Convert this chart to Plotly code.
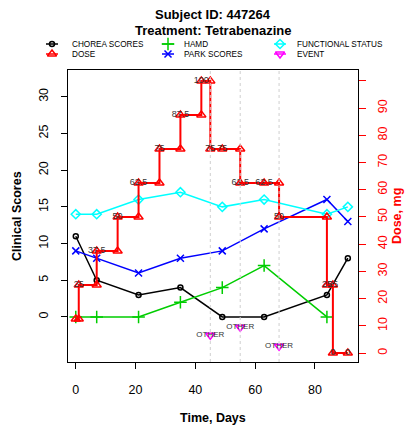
import plotly.graph_objects as go

W, H = 406, 430

# ---------------- data ----------------
days = [0, 7, 21, 35, 49, 63, 84, 91]
chorea = [11, 5, 3, 4, 0, 0, 3, 8]
hamd_days = [0, 7, 21, 35, 49, 63, 84]
hamd = [0, 0, 0, 2, 4, 7, 0]
park = [9, 8, 6, 8, 9, 12, 16, 13]
functional = [14, 14, 16, 17, 15, 16, 14, 15]

dose_days = [0, 1, 1, 7, 7, 14, 14, 21, 21, 28, 28, 35, 35, 42, 42, 45, 45, 49,
             55, 55, 63, 68, 68, 84, 84, 86, 86, 91]
dose_mg = [12.5, 12.5, 25, 25, 37.5, 37.5, 50, 50, 62.5, 62.5, 75, 75, 87.5, 87.5,
           100, 100, 75, 75, 75, 62.5, 62.5, 62.5, 50, 50, 25, 25, 0, 0]
dose_labels = ["", "", "25", "", "37.5", "", "50", "", "62.5", "", "75", "", "87.5", "",
               "100", "", "75", "75", "", "62.5", "62.5", "", "50", "", "25", "25", "0", "0"]

event_days = [45, 55, 68]
event_y = [-2.5, -1.4, -4.0]
event_labels = ["OTHER", "OTHER", "OTHER"]

x_ticks = [0, 20, 40, 60, 80]
y_ticks = [0, 5, 10, 15, 20, 25, 30]
dose_ticks = [0, 10, 20, 30, 40, 50, 60, 70, 80, 90, 100]
dose_ticktext = ["0", "10", "20", "30", "40", "50", "60", "70", "80", "90", ""]

legend_names = ["CHOREA SCORES", "DOSE", "HAMD", "PARK SCORES", "FUNCTIONAL STATUS", "EVENT"]

# ---------------- styles ----------------
FONT = "Liberation Sans, Arial, sans-serif"
STY = {
    "CHOREA SCORES": dict(color="#000000", symbol="circle-open", size=5),
    "DOSE": dict(color="#FF0000", symbol="triangle-up-open", size=8),
    "HAMD": dict(color="#00CD00", symbol="cross-thin-open", size=9),
    "PARK SCORES": dict(color="#0000FF", symbol="x-thin-open", size=7),
    "FUNCTIONAL STATUS": dict(color="#00FFFF", symbol="diamond-open", size=7),
    "EVENT": dict(color="#FF00FF", symbol="triangle-down-open", size=8),
}

def mk(name):
    s = STY[name]
    return dict(color=s["color"], symbol=s["symbol"], size=s["size"],
                line=dict(color=s["color"], width=1.5))

fig = go.Figure()

fig.add_trace(go.Scatter(x=days, y=chorea, mode="lines+markers",
                         line=dict(color=STY["CHOREA SCORES"]["color"], width=1.5),
                         marker=mk("CHOREA SCORES"), xaxis="x", yaxis="y"))
fig.add_trace(go.Scatter(x=hamd_days, y=hamd, mode="lines+markers",
                         line=dict(color=STY["HAMD"]["color"], width=1.5),
                         marker=mk("HAMD"), xaxis="x", yaxis="y"))
fig.add_trace(go.Scatter(x=days, y=park, mode="lines+markers",
                         line=dict(color=STY["PARK SCORES"]["color"], width=1.5),
                         marker=mk("PARK SCORES"), xaxis="x", yaxis="y"))
fig.add_trace(go.Scatter(x=days, y=functional, mode="lines+markers",
                         line=dict(color=STY["FUNCTIONAL STATUS"]["color"], width=1.5),
                         marker=mk("FUNCTIONAL STATUS"), xaxis="x", yaxis="y"))
fig.add_trace(go.Scatter(x=event_days, y=event_y, mode="markers+text",
                         marker=mk("EVENT"), text=event_labels,
                         textposition="middle center",
                         textfont=dict(size=8, color="#333333", family=FONT),
                         xaxis="x", yaxis="y"))
fig.add_trace(go.Scatter(x=dose_days, y=dose_mg, mode="lines+markers+text",
                         line=dict(color=STY["DOSE"]["color"], width=2),
                         marker=mk("DOSE"), text=dose_labels,
                         textposition="middle center",
                         textfont=dict(size=9, color="#333333", family=FONT),
                         xaxis="x", yaxis="y2"))

# ---------------- legend (drawn on an auxiliary pixel axis) ----------------
LEG_SYM_X = [52, 52, 168, 168, 280, 280]
LEG_TXT_X = [70, 70, 182, 182, 295, 295]
LEG_ROW_Y = [44, 54, 44, 54, 44, 54]
HALF = 6
for i, name in enumerate(legend_names):
    s = STY[name]
    fig.add_trace(go.Scatter(
        x=[LEG_SYM_X[i] - HALF, LEG_SYM_X[i], LEG_SYM_X[i] + HALF],
        y=[LEG_ROW_Y[i]] * 3, mode="lines+markers",
        line=dict(color=s["color"], width=1.5),
        marker=dict(color=s["color"], symbol=s["symbol"], size=s["size"],
                    opacity=[0, 1, 0], line=dict(color=s["color"], width=1.5)),
        xaxis="x3", yaxis="y3", hoverinfo="skip"))
    fig.add_annotation(x=LEG_TXT_X[i], y=LEG_ROW_Y[i], xref="x3", yref="y3",
                       text=name, showarrow=False, xanchor="left", yanchor="middle",
                       font=dict(size=8.2, color="#000000", family=FONT))

# ---------------- event reference lines ----------------
for d in event_days:
    fig.add_shape(type="line", xref="x", yref="y domain", x0=d, x1=d, y0=0, y1=1,
                  line=dict(color="#CFCFCF", width=1, dash="dot"), layer="above")

# ---------------- titles ----------------
fig.add_annotation(text="<b>Subject ID: 447264</b>", xref="x domain", x=0.5,
                   yref="paper", y=1 - 15 / H, showarrow=False, xanchor="center",
                   yanchor="middle", font=dict(size=13, color="#000000", family=FONT))
fig.add_annotation(text="<b>Treatment: Tetrabenazine</b>", xref="x domain", x=0.5,
                   yref="paper", y=1 - 30 / H, showarrow=False, xanchor="center",
                   yanchor="middle", font=dict(size=13, color="#000000", family=FONT))
fig.add_annotation(text="<b>Time, Days</b>", xref="x domain", x=0.5,
                   yref="paper", y=1 - 418 / H, showarrow=False, xanchor="center",
                   yanchor="middle", font=dict(size=12.5, color="#000000", family=FONT))
fig.add_annotation(text="<b>Clinical Scores</b>", xref="paper", x=17 / W,
                   yref="y domain", y=0.5, showarrow=False, textangle=-90,
                   xanchor="center", yanchor="middle",
                   font=dict(size=12.5, color="#000000", family=FONT))
fig.add_annotation(text="<b>Dose, mg</b>", xref="paper", x=397 / W,
                   yref="y domain", y=0.5, showarrow=False, textangle=-90,
                   xanchor="center", yanchor="middle",
                   font=dict(size=12.5, color="#FF0000", family=FONT))

XDOM = [68 / W, 358 / W]
YDOM = [(H - 362) / H, (H - 70) / H]

fig.update_layout(
    width=W, height=H, margin=dict(l=0, r=0, t=0, b=0),
    paper_bgcolor="white", plot_bgcolor="rgba(0,0,0,0)",
    showlegend=False, font=dict(family=FONT, color="#000000"),
    xaxis=dict(domain=XDOM, range=[-2.6, 94.4], tickvals=x_ticks, ticks="outside",
               ticklen=6, tickcolor="#000000", showline=True, mirror=True,
               linecolor="#000000", linewidth=1, showgrid=False, zeroline=False,
               tickfont=dict(size=12.5), ticklabelstandoff=10, anchor="y"),
    yaxis=dict(domain=YDOM, range=[-6.14, 33.65], tickvals=y_ticks, ticks="outside",
               ticklen=6, tickcolor="#000000", showline=True, mirror=True,
               linecolor="#000000", linewidth=1, showgrid=False, zeroline=False,
               tickangle=-90, tickfont=dict(size=12.5), ticklabelstandoff=8,
               anchor="x"),
    yaxis2=dict(overlaying="y", side="right", anchor="x", range=[-3.3, 104.0],
                tickvals=dose_ticks, ticktext=dose_ticktext, ticks="outside",
                ticklen=7, tickcolor="#FF0000", showline=False, showgrid=False,
                zeroline=False, tickangle=-90,
                tickfont=dict(size=12.5, color="#FF0000"), ticklabelstandoff=6),
    xaxis3=dict(domain=[0, 1], range=[0, W], visible=False, anchor="y3",
                fixedrange=True),
    yaxis3=dict(domain=[(H - 66) / H, (H - 32) / H], range=[66, 32], visible=False,
                anchor="x3", fixedrange=True),
)

fig.write_html("out.html")
